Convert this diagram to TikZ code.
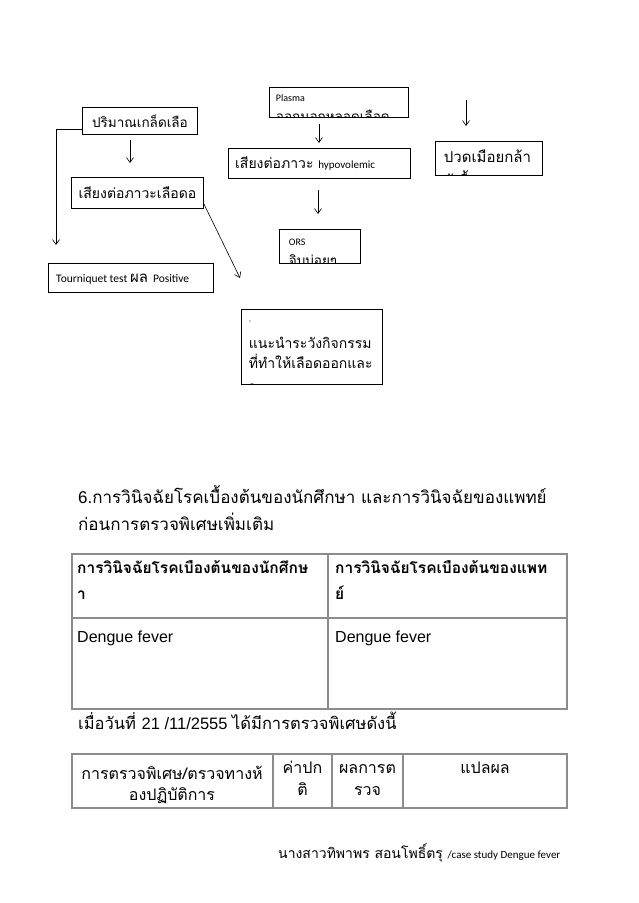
\documentclass[tikz,border=0pt]{standalone}
\usepackage{fontspec}
\usetikzlibrary{arrows.meta}
\newfontfamily\thaif[Script=Thai]{Loma}
\newfontfamily\calf{Carlito}
\newfontfamily\arf{Liberation Sans}
\begin{document}
\begin{tikzpicture}[x=1pt,y=-1pt,
  box/.style={draw, line width=0.9pt, inner sep=0pt, anchor=north west},
  inbox/.style={draw=none, anchor=base west, inner sep=0pt, minimum width=0pt, minimum height=0pt},
  arr/.style={-{Straight Barb[length=5pt,width=7pt]}, line width=0.6pt},
  tline/.style={draw=black!45, line width=1.1pt},
  txt/.style={anchor=base west, inner sep=0pt},
  ctxt/.style={anchor=base, inner sep=0pt, align=center}]
\useasboundingbox[fill=white] (0,0) rectangle (638,903);

% ---------- flowchart boxes ----------
\node[box, minimum width=115pt, minimum height=27pt, font=\thaif\fontsize{13.5}{15}\selectfont] (b1) at (82,107) {ปริมาณเกล็ดเลือ};
\node[box, minimum width=132pt, minimum height=31pt, font=\thaif\fontsize{14}{16}\selectfont] (b2) at (71,177) {เสียงต่อภาวะเลือดอ};
\node[box, minimum width=165pt, minimum height=29pt] (b3) at (48,263) {};
\node[txt] (t3) at (56,282) {\calf\fontsize{11.5}{13}\selectfont Tourniquet test \thaif\fontsize{15}{16}\selectfont ผล \calf\fontsize{11.5}{13}\selectfont Positive};

\node[box, minimum width=139pt, minimum height=30pt,
  path picture={
   \node[inbox, font=\calf\fontsize{10}{11}\selectfont] at ([xshift=6pt,yshift=-14pt]path picture bounding box.north west) {Plasma};
   \node[inbox, font=\thaif\fontsize{13.5}{14}\selectfont] at ([xshift=6pt,yshift=-34pt]path picture bounding box.north west) {ออกนอกหลอดเลือด};}] (b4) at (269,87) {};

\node[box, minimum width=182pt, minimum height=30pt] (b5) at (228,148) {};
\node[txt] (t5) at (235,168) {\thaif\fontsize{14}{16}\selectfont เสียงต่อภาวะ \calf\fontsize{11}{13}\selectfont hypovolemic};

\node[box, minimum width=107pt, minimum height=34pt,
  path picture={
   \node[inbox, font=\thaif\fontsize{15}{17}\selectfont] at ([xshift=8pt,yshift=-21pt]path picture bounding box.north west) {ปวดเมือยกล้า};
   \node[inbox, font=\thaif\fontsize{15}{17}\selectfont] at ([xshift=8pt,yshift=-45pt]path picture bounding box.north west) {ม้เนื้อ};}] (b6) at (435,141) {};

\node[box, minimum width=81pt, minimum height=34pt,
  path picture={
   \node[inbox, font=\calf\fontsize{10}{11}\selectfont] at ([xshift=9pt,yshift=-16pt]path picture bounding box.north west) {ORS};
   \node[inbox, font=\thaif\fontsize{13.5}{14}\selectfont] at ([xshift=9pt,yshift=-36pt]path picture bounding box.north west) {จิบบ่อยๆ};}] (b7) at (279,229) {};

\node[box, minimum width=141pt, minimum height=75pt,
  path picture={
   \node[inbox, font=\calf\fontsize{7}{7}\selectfont] at ([xshift=7pt,yshift=-14pt]path picture bounding box.north west) {-};
   \node[inbox, font=\thaif\fontsize{14}{16}\selectfont] at ([xshift=7pt,yshift=-39pt]path picture bounding box.north west) {แนะนำระวังกิจกรรม};
   \node[inbox, font=\thaif\fontsize{14}{16}\selectfont] at ([xshift=7pt,yshift=-59pt]path picture bounding box.north west) {ที่ทำให้เลือดออกและ};
   \node[inbox, font=\thaif\fontsize{14}{16}\selectfont] at ([xshift=7pt,yshift=-87pt]path picture bounding box.north west) {ใช้แปรงสีฟันขนนุ่ม};}] (b8) at (241,309) {};

% ---------- connectors ----------
\coordinate (a1s) at (130,140); \coordinate (a1e) at (130,163);
\draw[arr] (a1s) -- (a1e);
\coordinate (l1) at (82,129); \coordinate (l2) at (56,245);
\draw[arr] (l1) -| (l2);
\coordinate (d1) at (240,278);
\draw[arr] (b2.south east) ++(0,-5) -- (d1);
\coordinate (a2s) at (319,124); \coordinate (a2e) at (319,143);
\draw[arr] (a2s) -- (a2e);
\coordinate (a3s) at (318,190); \coordinate (a3e) at (318,214);
\draw[arr] (a3s) -- (a3e);
\coordinate (a4s) at (466,100); \coordinate (a4e) at (466,126);
\draw[arr] (a4s) -- (a4e);

% ---------- heading ----------
\node[txt] (h1) at (78,503) {\arf\fontsize{17}{20}\selectfont 6.\thaif การวินิจฉัยโรคเบื้องต้นของนักศึกษา และการวินิจฉัยของแพทย์};
\node[txt] (h2) at (78,530) {\thaif\fontsize{17}{20}\selectfont ก่อนการตรวจพิเศษเพิ่มเติม};

% ---------- table 1 ----------
\draw[tline] (72,554) rectangle (567,709);
\draw[tline] (72,618) -- (567,618);
\draw[tline] (328,554) -- (328,709);
\node[txt] (c11) at (77,573) {\thaif\bfseries\fontsize{15.5}{17}\selectfont การวินิจฉัยโรคเบืองต้นของนักศึกษ};
\node[txt] (c12) at (77,599) {\thaif\bfseries\fontsize{15.5}{17}\selectfont า};
\node[txt] (c21) at (335,573) {\thaif\bfseries\fontsize{15.5}{17}\selectfont การวินิจฉัยโรคเบืองต้นของแพท};
\node[txt] (c22) at (335,599) {\thaif\bfseries\fontsize{15.5}{17}\selectfont ย์};
\node[txt] (d1t) at (77,642) {\arf\fontsize{16}{18}\selectfont Dengue fever};
\node[txt] (d2t) at (335,642) {\arf\fontsize{16}{18}\selectfont Dengue fever};

% ---------- date line ----------
\node[txt] (dl) at (78,729) {\thaif\fontsize{16.5}{19}\selectfont เมื่อวันที่ \arf 21 /11/2555 \thaif ได้มีการตรวจพิเศษดังนี้};

% ---------- table 2 ----------
\draw[tline] (72,754) rectangle (567,808);
\draw[tline] (273,754) -- (273,808);
\draw[tline] (332,754) -- (332,808);
\draw[tline] (403,754) -- (403,808);
\node[ctxt] (e1) at (172,779) {\thaif\fontsize{16}{18}\selectfont การตรวจพิเศษ/ตรวจทางห้};
\node[ctxt] (e1b) at (172,800) {\thaif\fontsize{16}{18}\selectfont องปฏิบัติการ};
\node[ctxt] (e2) at (302.5,773) {\thaif\fontsize{16}{18}\selectfont ค่าปก};
\node[ctxt] (e2b) at (302.5,795) {\thaif\fontsize{16}{18}\selectfont ติ};
\node[ctxt] (e3) at (367.5,773) {\thaif\fontsize{16}{18}\selectfont ผลการต};
\node[ctxt] (e3b) at (367.5,795) {\thaif\fontsize{16}{18}\selectfont รวจ};
\node[ctxt] (e4) at (485,773) {\thaif\fontsize{16}{18}\selectfont แปลผล};

% ---------- footer ----------
\node[txt] (ft) at (278,858) {\thaif\fontsize{14}{16}\selectfont นางสาวทิพาพร สอนโพธิ์ตรุ \calf\fontsize{11}{13}\selectfont /case study Dengue fever};
\end{tikzpicture}
\end{document}
